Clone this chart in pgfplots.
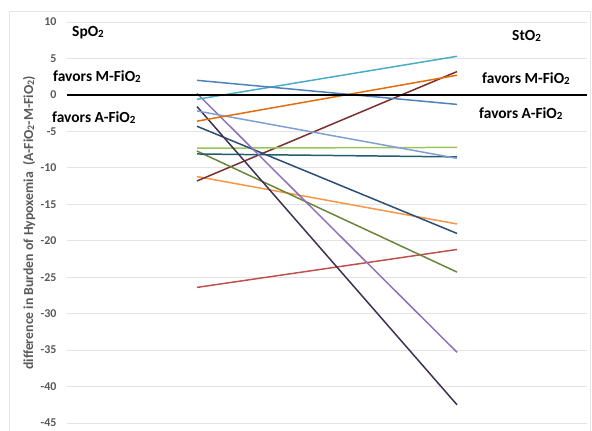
\documentclass[border=0pt]{standalone}
\usepackage{pgfplots}
\pgfplotsset{compat=1.18}
\usepackage{fontspec}
\setmainfont{Carlito}
\definecolor{gtxt}{HTML}{595959}
\definecolor{gridc}{HTML}{E3E3E3}
\definecolor{cA}{HTML}{4F81BD}
\definecolor{cB}{HTML}{4BACC6}
\definecolor{cC}{HTML}{E46C0A}
\definecolor{cD}{HTML}{7F9FD3}
\definecolor{cE}{HTML}{8C72B8}
\definecolor{cF}{HTML}{3F3151}
\definecolor{cG}{HTML}{2C4D75}
\definecolor{cH}{HTML}{9BC45A}
\definecolor{cI}{HTML}{215E6E}
\definecolor{cJ}{HTML}{6A853A}
\definecolor{cK}{HTML}{7B2E2C}
\definecolor{cL}{HTML}{F79646}
\definecolor{cM}{HTML}{C0504D}
\newcommand\two{\raisebox{-0.15ex}{\fontsize{11}{11}\selectfont 2}}
\newcommand\twos{\raisebox{-0.15ex}{\fontsize{10}{10}\selectfont 2}}
\begin{document}
\begin{tikzpicture}[x=1bp,y=1bp]
\useasboundingbox (0,0) rectangle (592,-430);
\draw[gray!20, line width=0.8pt] (9,-11) rectangle (590,-445);
\begin{axis}[at={(67bp,-22bp)}, anchor=north west, width=520bp, height=401bp, scale only axis,
  xmin=-0.5, xmax=1.5, ymin=-45, ymax=10, ytick={-45,-40,...,10}, xtick=\empty,
  ymajorgrids, grid style={draw=gridc, line width=0.9pt},
  axis line style={draw=none}, major tick length=0,
  yticklabel style={font=\fontsize{12}{13}\selectfont\bfseries, text=gtxt, xshift=-7bp},
  /pgf/number format/assume math mode=true, clip=false,
  every axis plot/.append style={line width=1.5pt}]
\addplot[cM] coordinates {(0,-26.4) (1,-21.2)};
\addplot[cL] coordinates {(0,-11.2) (1,-17.7)};
\addplot[cK] coordinates {(0,-11.8) (1,3.2)};
\addplot[cJ] coordinates {(0,-7.7) (1,-24.3)};
\addplot[cI] coordinates {(0,-8.1) (1,-8.5)};
\addplot[cH] coordinates {(0,-7.3) (1,-7.2)};
\addplot[cG] coordinates {(0,-4.3) (1,-19.0)};
\addplot[cF] coordinates {(0,-1.6) (1,-42.5)};
\addplot[cE] coordinates {(0,0.2) (1,-35.3)};
\addplot[cD] coordinates {(0,-2.2) (1,-8.7)};
\addplot[cC] coordinates {(0,-3.6) (1,2.7)};
\addplot[cB] coordinates {(0,-0.6) (1,5.3)};
\addplot[cA] coordinates {(0,2.0) (1,-1.3)};
\addplot[black, line width=2.6pt] coordinates {(-0.5,0) (1.5,0)};
\end{axis}
\begin{scope}[every node/.style={font=\fontsize{15.5}{17}\selectfont\bfseries, inner sep=0pt}]
\node[anchor=west] at (72,-33) {SpO\two};
\node[anchor=west] at (53,-77) {favors M-FiO\two};
\node[anchor=west] at (52,-118) {favors A-FiO\two};
\node[anchor=west] at (512,-36) {StO\two};
\node[anchor=west] at (482,-79) {favors M-FiO\two};
\node[anchor=west] at (479,-114) {favors A-FiO\two};
\node[rotate=90, text=gtxt, font=\fontsize{13.8}{15}\selectfont\bfseries] at (29,-223) {difference in Burden of Hypoxemia\ \ (A-FiO\twos-M-FiO\twos)};
\end{scope}
\end{tikzpicture}
\end{document}
